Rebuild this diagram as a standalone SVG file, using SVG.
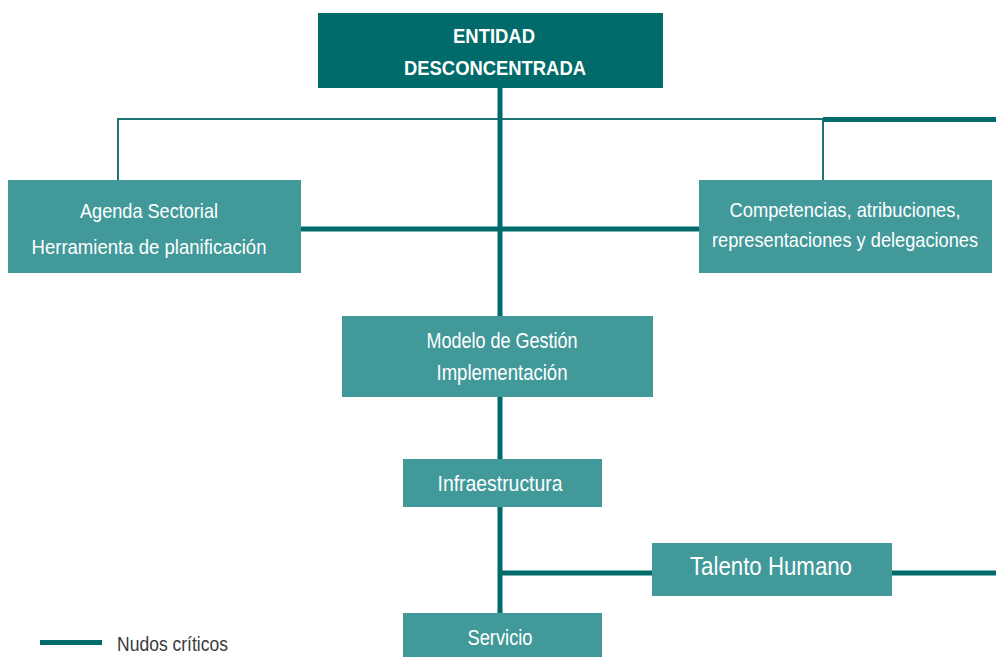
<svg xmlns="http://www.w3.org/2000/svg" width="996" height="657" viewBox="0 0 996 657">
<style>
.box{fill:#41999A}
.dark{fill:#006B6A}
.t{font-family:"Liberation Sans",Arial,sans-serif;fill:#fff;text-anchor:middle;font-size:22px}
.s{font-size:21px}
.b{font-weight:bold;font-size:21px}
.thick{stroke:#006B6A;stroke-width:5;fill:none}
.thin{stroke:#1E7473;stroke-width:2;fill:none}
.leg{font-family:"Liberation Sans",Arial,sans-serif;fill:#3a3a3a;font-size:21px}
</style>
<rect width="996" height="657" fill="#fff"/>
<g id="connectors">
<path class="thin" d="M118 181V119H823M823 119V181"/>
<path class="thick" d="M823 119.5H996"/>
<path class="thick" d="M500 88V613"/>
<path class="thick" d="M301 229H699"/>
<path class="thick" d="M500 573H652M892 573H996"/>
</g>
<g id="entidad">
<rect class="dark" x="318" y="13" width="345" height="75"/>
<text class="t b" x="494" y="43" textLength="82" lengthAdjust="spacingAndGlyphs">ENTIDAD</text>
<text class="t b" x="495" y="75" textLength="182" lengthAdjust="spacingAndGlyphs">DESCONCENTRADA</text>
</g>
<g id="agenda">
<rect class="box" x="8" y="180" width="293" height="93"/>
<text class="t s" x="149" y="218" textLength="138" lengthAdjust="spacingAndGlyphs">Agenda Sectorial</text>
<text class="t s" x="149" y="254" textLength="235" lengthAdjust="spacingAndGlyphs">Herramienta de planificación</text>
</g>
<g id="competencias">
<rect class="box" x="699" y="180" width="293" height="93"/>
<text class="t s" x="845" y="217" textLength="231" lengthAdjust="spacingAndGlyphs">Competencias, atribuciones,</text>
<text class="t s" x="845" y="247" textLength="266" lengthAdjust="spacingAndGlyphs">representaciones y delegaciones</text>
</g>
<g id="modelo">
<rect class="box" x="342" y="316" width="311" height="81"/>
<text class="t" x="502" y="348" textLength="151" lengthAdjust="spacingAndGlyphs">Modelo de Gestión</text>
<text class="t" x="502" y="380" textLength="131" lengthAdjust="spacingAndGlyphs">Implementación</text>
</g>
<g id="infraestructura">
<rect class="box" x="403" y="459" width="199" height="48"/>
<text class="t" x="500" y="491" textLength="125" lengthAdjust="spacingAndGlyphs">Infraestructura</text>
</g>
<g id="talento">
<rect class="box" x="652" y="543" width="240" height="53"/>
<text class="t" x="771" y="575" style="font-size:25px" textLength="162" lengthAdjust="spacingAndGlyphs">Talento Humano</text>
</g>
<g id="servicio">
<rect class="box" x="403" y="613" width="199" height="44"/>
<text class="t" x="500" y="645" textLength="65" lengthAdjust="spacingAndGlyphs">Servicio</text>
</g>
<g id="legend">
<path class="thick" d="M40 642.5H102"/>
<text class="leg" x="117" y="651" textLength="111" lengthAdjust="spacingAndGlyphs">Nudos críticos</text>
</g>
</svg>
